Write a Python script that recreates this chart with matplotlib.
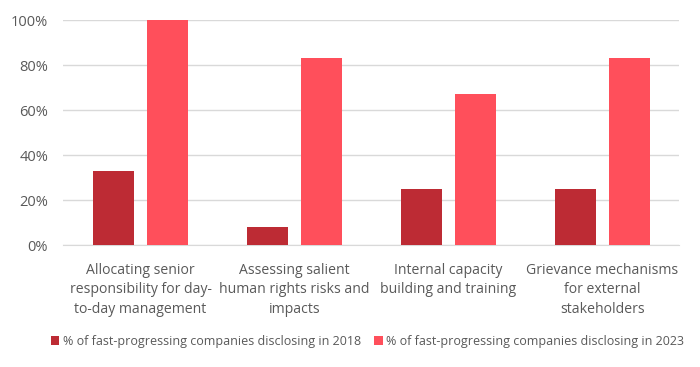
import matplotlib.pyplot as plt
import numpy as np

categories = [
    "Allocating senior\nresponsibility for day-\nto-day management",
    "Assessing salient\nhuman rights risks and\nimpacts",
    "Internal capacity\nbuilding and training",
    "Grievance mechanisms\nfor external\nstakeholders",
]
values_2018 = [33, 8, 25, 25]
values_2023 = [100, 83, 67, 83]
series_names = [
    "% of fast-progressing companies disclosing in 2018",
    "% of fast-progressing companies disclosing in 2023",
]
yticks = [0, 20, 40, 60, 80, 100]

dark_red = "#BD2B34"
light_red = "#FF4F5B"
text_col = "#595959"

plt.rcParams['font.family'] = ['Open Sans', 'DejaVu Sans']

fig = plt.figure(figsize=(7.0, 3.67), dpi=100)
ax = fig.add_axes([0.0907, 0.3324, 0.88, 0.6131])

x = np.arange(len(categories))
w = 0.266
b1 = ax.bar(x - 0.175, values_2018, w, color=dark_red, label=series_names[0], zorder=3)
b2 = ax.bar(x + 0.175, values_2023, w, color=light_red, label=series_names[1], zorder=3)

ax.set_xlim(-0.5, len(categories) - 0.5)
ax.set_ylim(0, 100)
ax.set_yticks(yticks)
ax.set_yticklabels([f"{t}%" for t in yticks])
ax.set_xticks(x)
ax.set_xticklabels(categories, linespacing=1.4)

ax.grid(axis='y', color='#D9D9D9', linewidth=1, zorder=0)
for s in ['top', 'right', 'left']:
    ax.spines[s].set_visible(False)
ax.spines['bottom'].set_color('#D9D9D9')
ax.tick_params(axis='both', length=0, labelsize=10.5, colors=text_col)
ax.tick_params(axis='x', pad=13, labelsize=10.1)
ax.tick_params(axis='y', pad=11)

fig.legend(handles=[b1, b2], loc='center', bbox_to_anchor=(0.525, 0.07), ncol=2,
           frameon=False, fontsize=9, labelcolor=text_col, handlelength=0.7,
           handleheight=0.7, handletextpad=0.3, columnspacing=1.0)

fig.savefig("out.png", dpi=100)
